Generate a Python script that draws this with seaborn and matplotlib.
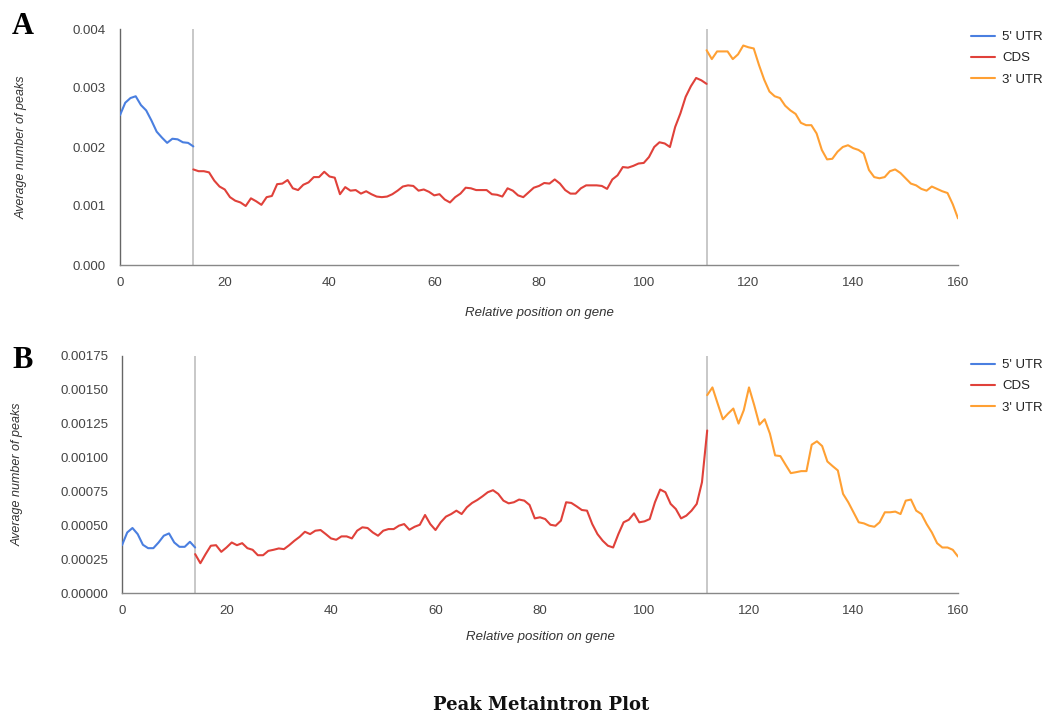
import numpy as np
import pandas as pd
import matplotlib
matplotlib.use("Agg")
import matplotlib.pyplot as plt
import seaborn as sns

# ---------------- data ----------------
regions = ["5' UTR", "CDS", "3' UTR"]
colors = ["#4a7fe0", "#e0413a", "#ffa033"]
x_ticks = [0, 20, 40, 60, 80, 100, 120, 140, 160]
boundaries = [14, 112]

# Panel A (values x 1e-3)
a_utr5_x = list(range(0, 15))
a_utr5 = [2.54, 2.75, 2.83, 2.86, 2.71, 2.62, 2.45, 2.26, 2.16, 2.07,
          2.14, 2.13, 2.08, 2.07, 2.01]
a_cds_x = list(range(14, 113))
a_cds = [1.62, 1.59, 1.59, 1.57, 1.43, 1.33, 1.28, 1.15, 1.09, 1.06,
         1.00, 1.13, 1.08, 1.02, 1.15, 1.17, 1.37, 1.38, 1.44, 1.30,
         1.27, 1.36, 1.40, 1.49, 1.49, 1.58, 1.50, 1.48, 1.20, 1.32,
         1.26, 1.27, 1.21, 1.25, 1.20, 1.16, 1.15, 1.16, 1.20, 1.26,
         1.33,
         1.35, 1.34, 1.26, 1.28, 1.24, 1.18, 1.20, 1.11, 1.06, 1.15,
         1.21, 1.31, 1.30, 1.27, 1.27, 1.27, 1.20, 1.19, 1.16, 1.30,
         1.26, 1.18, 1.15, 1.23, 1.31, 1.34, 1.39, 1.38, 1.45, 1.38,
         1.27, 1.21, 1.21, 1.30, 1.35, 1.35, 1.35, 1.34, 1.29, 1.45,
         1.52, 1.66, 1.65, 1.68, 1.72, 1.73, 1.83, 2.00, 2.08, 2.06,
         2.00, 2.34, 2.57, 2.85,
         3.03, 3.17, 3.13, 3.07]
a_utr3_x = list(range(112, 161))
a_utr3 = [3.64, 3.49, 3.62, 3.62, 3.62, 3.49, 3.57, 3.72, 3.69, 3.67,
          3.39, 3.14, 2.94, 2.86, 2.83, 2.70, 2.62, 2.56, 2.41, 2.37,
          2.37, 2.23, 1.95, 1.79, 1.80, 1.92, 2.00, 2.03, 1.98, 1.95,
          1.89, 1.61, 1.49, 1.47, 1.49, 1.59, 1.62, 1.56, 1.47, 1.38,
          1.35, 1.29, 1.26, 1.33, 1.29, 1.25, 1.22, 1.03, 0.79]

# Panel B (values x 1e-4)
b_utr5_x = list(range(0, 15))
b_utr5 = [3.53, 4.47, 4.80, 4.35, 3.56, 3.31, 3.31, 3.73, 4.23, 4.40,
          3.73, 3.41, 3.41, 3.78, 3.36]
b_cds_x = list(range(14, 113))
b_cds = [2.87, 2.20, 2.87, 3.49, 3.53, 3.04, 3.36, 3.73, 3.53, 3.68,
         3.31, 3.19, 2.79, 2.79, 3.11, 3.19, 3.29, 3.24, 3.53, 3.86,
         4.15, 4.52, 4.35, 4.60, 4.65, 4.35, 4.03, 3.93, 4.18, 4.18,
         4.03, 4.60, 4.85, 4.80, 4.47, 4.23, 4.60, 4.72, 4.72,
         4.97, 5.09, 4.67, 4.89, 5.04, 5.76, 5.09, 4.65, 5.22, 5.64,
         5.83, 6.08, 5.83, 6.33, 6.65, 6.87, 7.14, 7.44, 7.59, 7.32,
         6.82, 6.62, 6.70, 6.90, 6.82, 6.50, 5.51, 5.59, 5.46, 5.04,
         4.97, 5.34, 6.70, 6.65, 6.40, 6.13, 6.08, 5.09, 4.35, 3.86,
         3.49, 3.36, 4.35, 5.22, 5.41, 5.88, 5.22, 5.29, 5.46, 6.70,
         7.64, 7.44, 6.58, 6.20,
         5.51, 5.71, 6.08, 6.58, 8.18, 12.0]
b_utr3_x = list(range(112, 161))
b_utr3 = [14.61, 15.18, 13.99, 12.83, 13.25, 13.62, 12.51, 13.50, 15.18, 13.87,
          12.43, 12.83, 11.77, 10.16, 10.11, 9.47, 8.85, 8.92, 9.00, 9.00,
          10.95, 11.20, 10.85, 9.71, 9.37, 9.05, 7.32, 6.70, 5.96, 5.22,
          5.14, 4.97, 4.89, 5.22, 5.96, 5.96, 6.01, 5.83, 6.82, 6.90,
          6.08, 5.83, 5.09, 4.47, 3.68, 3.36, 3.36, 3.19, 2.69]

a_yticks = [0.000, 0.001, 0.002, 0.003, 0.004]
b_yticks = [0.0, 0.00025, 0.0005, 0.00075, 0.001, 0.00125, 0.0015, 0.00175]


def build(xs, ys, scale):
    frames = []
    for reg, x, y in zip(regions, xs, ys):
        frames.append(pd.DataFrame({"pos": x, "val": np.array(y) * scale, "region": reg}))
    return pd.concat(frames, ignore_index=True)


df_a = build([a_utr5_x, a_cds_x, a_utr3_x], [a_utr5, a_cds, a_utr3], 1e-3)
df_b = build([b_utr5_x, b_cds_x, b_utr3_x], [b_utr5, b_cds, b_utr3], 1e-4)

# ---------------- style ----------------
sns.set_theme(style="white")
plt.rcParams["font.family"] = ["Liberation Sans", "DejaVu Sans"]

W, H = 1050, 715
fig = plt.figure(figsize=(W / 100, H / 100), dpi=100)


def fx(px):
    return px / W


def fy(py):
    return 1 - py / H


def panel(df, left, right, top, bottom, yticks, fmt, ylim, letter, letter_y,
          ylab_x, xlab_y, leg_top):
    ax = fig.add_axes([fx(left), fy(bottom), fx(right - left), (bottom - top) / H])
    for b in boundaries:
        ax.axvline(b, color="#c8c8c8", lw=1.4, zorder=1)
    sns.lineplot(data=df, x="pos", y="val", hue="region", hue_order=regions,
                 palette=colors, linewidth=1.5, ax=ax, estimator=None,
                 sort=True, zorder=3)
    ax.set_xlim(0, 160)
    ax.set_ylim(*ylim)
    ax.set_xticks(x_ticks)
    ax.set_yticks(yticks)
    ax.set_yticklabels([fmt.format(v) for v in yticks])
    ax.tick_params(axis="both", length=0, labelsize=9.5, colors="#444444")
    ax.tick_params(axis="y", pad=10)
    ax.tick_params(axis="x", pad=9)
    for s in ["top", "right"]:
        ax.spines[s].set_visible(False)
    ax.spines["left"].set_color("#666666")
    ax.spines["left"].set_linewidth(1.0)
    ax.spines["bottom"].set_color("#888888")
    ax.spines["bottom"].set_linewidth(1.0)
    ax.set_ylabel("Average number of peaks", fontsize=9, style="italic", color="#333333")
    ax.set_xlabel("Relative position on gene", fontsize=9.5, style="italic", color="#333333")
    ax.yaxis.set_label_coords(ylab_x, 0.5)
    ax.xaxis.set_label_coords(0.5, xlab_y)
    handles, labels = ax.get_legend_handles_labels()
    ax.legend(handles, labels, loc="upper left",
              bbox_to_anchor=(fx(971), fy(leg_top)), bbox_transform=fig.transFigure,
              frameon=False, fontsize=9.5, handlelength=1.8, handletextpad=0.55,
              labelspacing=0.68, borderaxespad=0, borderpad=0,
              labelcolor="#222222")
    fig.text(fx(12), fy(letter_y), letter, fontsize=22, fontweight="bold",
             family=["Liberation Serif", "DejaVu Serif"], va="top", ha="left", color="black")
    return ax


panel(df_a, 120, 958, 29, 265, a_yticks, "{:.3f}", (0, 0.004), "A", 12,
      -0.110, -0.178, 31)
panel(df_b, 122, 958, 356, 593, b_yticks, "{:.5f}", (0, 0.00175), "B", 346,
      -0.118, -0.16, 359)

fig.text(fx(541), fy(705), "Peak Metaintron Plot", ha="center", va="center",
         fontsize=13, fontweight="bold", family=["DejaVu Serif"], color="#111111")

fig.savefig("out.png", dpi=100)
